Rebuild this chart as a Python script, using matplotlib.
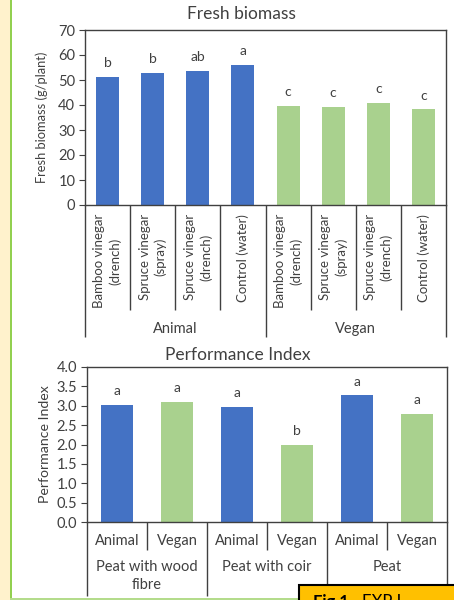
import matplotlib.pyplot as plt
import matplotlib.patches as mpatches
import matplotlib.transforms as mtransforms

# Fresh biomass per treatment, animal vs vegan fertiliser
treatments = ["Bamboo vinegar\n(drench)", "Spruce vinegar\n(spray)",
              "Spruce vinegar\n(drench)", "Control (water)"]
fert_groups = ["Animal", "Vegan"]
biomass_animal = [51.3, 52.9, 53.6, 56.0]
biomass_vegan = [39.7, 39.2, 40.9, 38.3]
biomass_letters = ["b", "b", "ab", "a", "c", "c", "c", "c"]

# Performance index per substrate
substrates = ["Peat with wood\nfibre", "Peat with coir", "Peat"]
pi_animal = [3.02, 2.98, 3.27]
pi_vegan = [3.10, 2.00, 2.79]
pi_letters = ["a", "a", "a", "b", "a", "a"]

BLUE = "#4472C4"
GREEN = "#A9D18E"
TXT = "#404040"
LINE = "#404040"
FONT = "Lato"
FS = 10.5

plt.rcParams["font.family"] = [FONT, "DejaVu Sans"]

W, H = 454, 600
fig = plt.figure(figsize=(W / 100, H / 100), dpi=100)
fig.patch.set_facecolor("white")


def px_axes(left, top, right, bottom):
    return fig.add_axes([left / W, 1 - bottom / H, (right - left) / W, (bottom - top) / H])


def style_box(ax):
    for s in ax.spines.values():
        s.set_color(LINE)
        s.set_linewidth(1.0)
    ax.tick_params(axis="y", direction="out", length=4, width=0.8, color=LINE,
                   labelcolor=TXT, labelsize=FS, pad=3)
    ax.tick_params(axis="x", length=0, labelbottom=False)


def vline(ax, x, depth_px, ax_h_px):
    tr = mtransforms.blended_transform_factory(ax.transData, ax.transAxes)
    ax.plot([x, x], [0, -depth_px / ax_h_px], color=LINE, lw=1.0,
            transform=tr, clip_on=False, solid_capstyle="butt")


def label(ax, x, depth_px, ax_h_px, s, **kw):
    tr = mtransforms.blended_transform_factory(ax.transData, ax.transAxes)
    ax.text(x, -depth_px / ax_h_px, s, transform=tr, color=TXT, **kw)


# ---- Fresh biomass ----
ax1 = px_axes(85, 30, 446, 205)
h1 = 175
vals1 = biomass_animal + biomass_vegan
cols1 = [BLUE] * len(biomass_animal) + [GREEN] * len(biomass_vegan)
x1 = list(range(len(vals1)))
ax1.bar(x1, vals1, width=0.51, color=cols1)
for xi, v, t in zip(x1, vals1, biomass_letters):
    ax1.annotate(t, (xi, v), xytext=(0, 7), textcoords="offset points",
                 ha="center", va="baseline", fontsize=FS - 0.5, color=TXT)
ax1.set_xlim(-0.5, len(vals1) - 0.5)
ax1.set_ylim(0, 70)
ax1.set_yticks(range(0, 71, 10))
style_box(ax1)
ax1.set_ylabel("Fresh biomass (g/plant)", fontsize=9.3, color=TXT, labelpad=7)
fig.text(241 / W, 1 - 14 / H, "Fresh biomass", fontsize=12.5, color=TXT,
         ha="center", va="center")

names1 = treatments * len(fert_groups)
for xi, s in zip(x1, names1):
    label(ax1, xi, 9, h1, s, rotation=90, ha="center", va="top",
          multialignment="center", fontsize=9.5, linespacing=1.35)
for k in range(len(vals1) + 1):
    edge = k - 0.5
    deep = k % len(treatments) == 0
    vline(ax1, edge, 132 if deep else 105, h1)
for g, name in enumerate(fert_groups):
    mid = g * len(treatments) + (len(treatments) - 1) / 2
    label(ax1, mid, 124, h1, name, ha="center", va="center", fontsize=FS)

# ---- Performance index ----
ax2 = px_axes(87, 367, 447, 522)
h2 = 155
vals2, cols2, names2 = [], [], []
for a, v in zip(pi_animal, pi_vegan):
    vals2 += [a, v]
    cols2 += [BLUE, GREEN]
    names2 += fert_groups
x2 = list(range(len(vals2)))
ax2.bar(x2, vals2, width=0.52, color=cols2)
for xi, v, t in zip(x2, vals2, pi_letters):
    ax2.annotate(t, (xi, v), xytext=(0, 7), textcoords="offset points",
                 ha="center", va="baseline", fontsize=FS - 0.5, color=TXT)
ax2.set_xlim(-0.5, len(vals2) - 0.5)
ax2.set_ylim(0, 4)
ax2.set_yticks([i * 0.5 for i in range(9)])
ax2.set_yticklabels([f"{i * 0.5:.1f}" for i in range(9)])
style_box(ax2)
ax2.set_ylabel("Performance Index", fontsize=10.2, color=TXT, labelpad=4)
fig.text(238 / W, 1 - 355 / H, "Performance Index", fontsize=12.5, color=TXT,
         ha="center", va="center")

for xi, s in zip(x2, names2):
    label(ax2, xi, 19, h2, s, ha="center", va="center", fontsize=FS)
for k in range(len(vals2) + 1):
    edge = k - 0.5
    deep = k % 2 == 0
    vline(ax2, edge, 74 if deep else 28, h2)
for g, name in enumerate(substrates):
    label(ax2, 2 * g + 0.5, 38, h2, name, ha="center", va="top",
          fontsize=FS, linespacing=1.35)

# ---- page decorations around the charts ----
fig.patches.append(mpatches.Rectangle((0, 0), 10 / W, 1, transform=fig.transFigure,
                                      facecolor="#FFF2CC", edgecolor="none"))
fig.patches.append(mpatches.Rectangle((10 / W, 0), 2 / W, 1, transform=fig.transFigure,
                                      facecolor="#92D050", edgecolor="none"))
fig.patches.append(mpatches.Rectangle((10 / W, 0), 290 / W, 2 / H, transform=fig.transFigure,
                                      facecolor="#B4DC8C", edgecolor="none"))
fig.patches.append(mpatches.Rectangle((299 / W, -10 / H), 170 / W, 25 / H,
                                      transform=fig.transFigure, facecolor="#FFC000",
                                      edgecolor="black", linewidth=1.5))
fig.text(313 / W, 1 - 594 / H, "Fig 1.", fontsize=12, fontweight="bold",
         color="black", va="top", ha="left")
fig.text(362 / W, 1 - 594 / H, "EXP I", fontsize=12, color="black", va="top", ha="left")

fig.savefig("out.png", dpi=100)
